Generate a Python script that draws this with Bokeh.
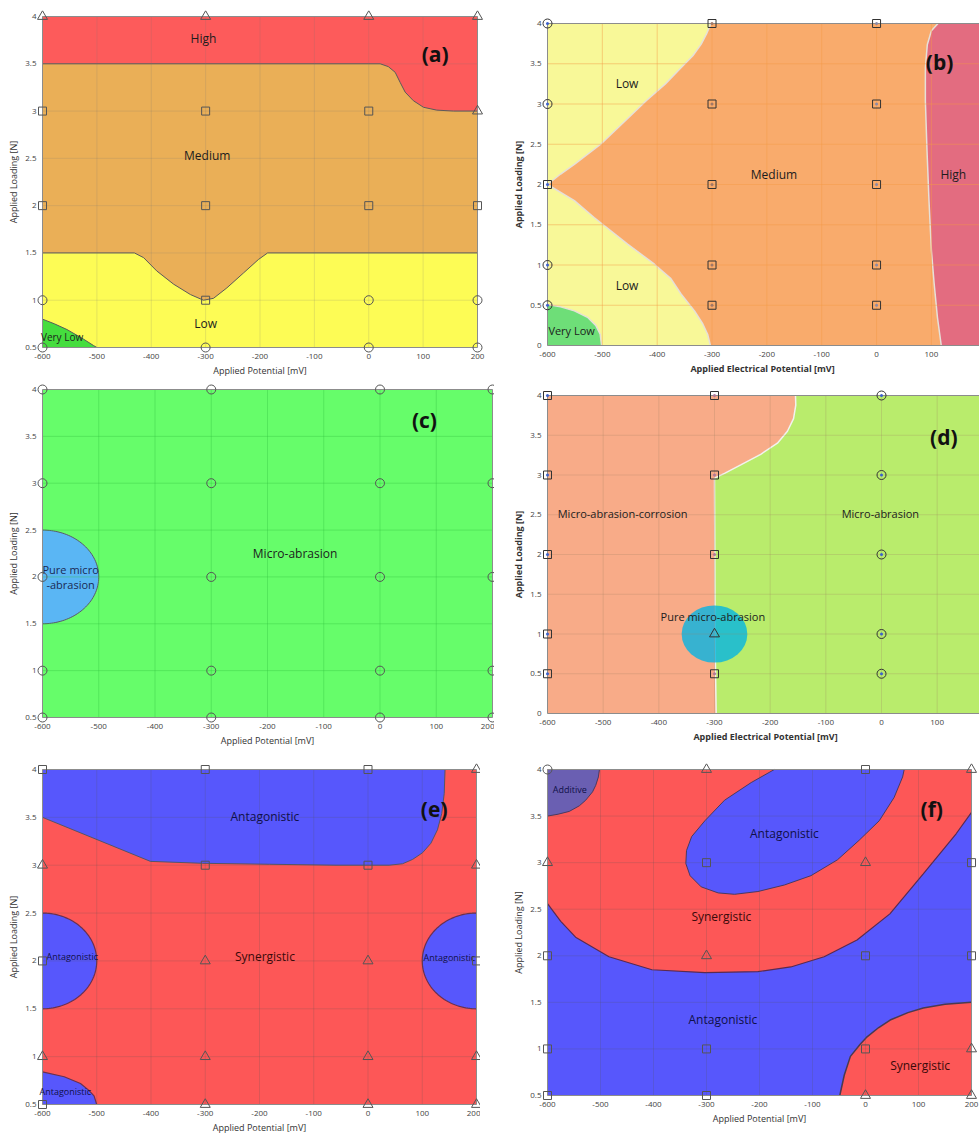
import numpy as np
from bokeh.plotting import figure
from bokeh.models import Range1d, FixedTicker, CustomJSTickFormatter, ColumnDataSource
from bokeh.layouts import row, column
from bokeh.core.properties import value
from bokeh.embed import file_html
from bokeh.resources import INLINE

FONT = "Open Sans"

# ---------------------------------------------------------------- test grid
POTENTIALS = [-600, -300, 0, 200]          # applied potential [mV]
LOADS = [4, 3, 2, 1, 0.5]                  # applied load [N]
X_TICKS = [-600, -500, -400, -300, -200, -100, 0, 100, 200]
Y_TICKS_HALF = [0.5, 1, 1.5, 2, 2.5, 3, 3.5, 4]
Y_TICKS_ZERO = [0, 0.5, 1, 1.5, 2, 2.5, 3, 3.5, 4]
X_LIMITS = [-600, 200]
Y_LIMITS_HALF = [0.5, 4]
Y_LIMITS_ZERO = [0, 4]

# marker shape at each test point, rows follow LOADS, columns follow POTENTIALS
a_markers = [["triangle", "triangle", "triangle", "triangle"],
             ["square", "square", "square", "triangle"],
             ["square", "square", "square", "square"],
             ["circle", "square", "circle", "circle"],
             ["circle", "circle", "circle", "circle"]]
b_markers = [["circle", "square", "square", "square"],
             ["circle", "square", "square", "square"],
             ["square", "square", "square", "square"],
             ["circle", "square", "square", "square"],
             ["circle", "square", "square", "square"]]
c_markers = [["circle", "circle", "circle", "circle"],
             ["circle", "circle", "circle", "circle"],
             ["circle", "circle", "circle", "circle"],
             ["circle", "circle", "circle", "circle"],
             ["circle", "circle", "circle", "circle"]]
d_markers = [["square", "square", "circle", "circle"],
             ["square", "square", "circle", "circle"],
             ["square", "square", "circle", "circle"],
             ["square", "triangle", "circle", "circle"],
             ["square", "square", "circle", "circle"]]
e_markers = [["square", "square", "square", "triangle"],
             ["triangle", "square", "square", "triangle"],
             ["square", "triangle", "triangle", "square"],
             ["triangle", "triangle", "triangle", "triangle"],
             ["square", "triangle", "triangle", "triangle"]]
f_markers = [["circle", "triangle", "square", "triangle"],
             ["triangle", "square", "triangle", "square"],
             ["square", "triangle", "square", "square"],
             ["square", "square", "square", "triangle"],
             ["square", "square", "triangle", "triangle"]]

# ---------------------------------------------------------------- (a) wastage map
a_high_x = [-600, 21, 36, 48.6, 58, 67, 82, 100.7, 125, 156, 200]
a_high_y = [3.5, 3.5, 3.47, 3.41, 3.30, 3.20, 3.11, 3.04, 3.01, 3.0, 3.0]
a_med_x = [-600, -431, -414, -390, -359, -328, -304, -285.5, -261, -230, -203, -186, 200]
a_med_y = [1.5, 1.5, 1.45, 1.31, 1.17, 1.06, 1.0, 1.02, 1.13, 1.29, 1.43, 1.5, 1.5]
a_vlow_x = [-600, -578, -555, -525, -506, -500]
a_vlow_y = [0.8, 0.75, 0.69, 0.59, 0.52, 0.5]
a_label_x = [-304, -297, -300, -564]
a_label_y = [3.77, 2.53, 0.75, 0.61]
a_labels = ["High", "Medium", "Low", "Very Low"]

# ---------------------------------------------------------------- (b) wastage map
b_low_up_x = [-600, -576, -551, -503, -460, -420, -385, -356.5, -335, -320, -310, -302]
b_low_up_y = [2.0, 2.13, 2.25, 2.5, 2.78, 3.04, 3.25, 3.45, 3.6, 3.74, 3.87, 4.0]
b_low_dn_x = [-600, -551, -515, -454, -405, -375, -356.5, -332, -317, -308, -303]
b_low_dn_y = [2.0, 1.80, 1.59, 1.26, 1.01, 0.83, 0.64, 0.43, 0.27, 0.14, 0.0]
b_high_x = [112, 100, 92.6, 89, 89, 92, 95.6, 100, 105, 111, 118]
b_high_y = [4.0, 3.91, 3.74, 3.45, 3.04, 2.42, 1.80, 1.18, 0.77, 0.35, 0.0]
b_vlow_x = [-600, -576, -551, -527, -512, -504, -501.4]
b_vlow_y = [0.51, 0.48, 0.43, 0.35, 0.25, 0.14, 0.0]
b_label_x = [-455, -455, -187, 140, -556]
b_label_y = [3.26, 0.74, 2.12, 2.12, 0.19]
b_labels = ["Low", "Low", "Medium", "High", "Very Low"]

# ---------------------------------------------------------------- (c) mechanism map
c_pure_x, c_pure_y, c_pure_w, c_pure_h = -600, 2.0, 200, 1.0
c_label_x = [-151, -550, -550]
c_label_y = [2.245, 2.08, 1.92]
c_labels = ["Micro-abrasion", "Pure micro", "-abrasion"]

# ---------------------------------------------------------------- (d) mechanism map
d_bound_x = [-297, -299, -299.5, -300, -282, -252, -217, -187, -169, -158, -154, -154.5]
d_bound_y = [0.0, 0.94, 2.2, 2.96, 3.02, 3.13, 3.26, 3.4, 3.55, 3.71, 3.88, 4.0]
d_pure_x, d_pure_y, d_pure_w, d_pure_h = -300, 1.0, 118, 0.72
d_label_x = [-465, -2, -303]
d_label_y = [2.51, 2.51, 1.22]
d_labels = ["Micro-abrasion-corrosion", "Micro-abrasion", "Pure micro-abrasion"]

# ---------------------------------------------------------------- (e) synergy map
e_top_x = [-600, -401, -305, -182, -59, 39, 63.6, 82, 100.5, 116, 128, 136, 140.5, 142]
e_top_y = [3.5, 3.04, 3.02, 3.01, 3.0, 3.0, 3.015, 3.06, 3.13, 3.23, 3.37, 3.54, 3.75, 4.0]
e_corner_x = [-600, -560, -530, -515, -505, -500]
e_corner_y = [0.84, 0.79, 0.72, 0.65, 0.59, 0.5]
e_ell_x = [-600, 200]
e_ell_y = [2.0, 2.0]
e_ell_w, e_ell_h = 200, 1.0
e_big_x = [-190, -190]
e_big_y = [3.51, 2.05]
e_big = ["Antagonistic", "Synergistic"]
e_small_x = [-545, 150, -558]
e_small_y = [2.05, 2.04, 0.64]
e_small = ["Antagonistic", "Antagonistic", "Antagonistic"]

# ---------------------------------------------------------------- (f) synergy map
f_band_x = [-600, -575, -547, -484, -403, -303, -203, -141, -78, -16, 46, 109, 171, 200]
f_band_y = [2.56, 2.37, 2.20, 1.99, 1.85, 1.82, 1.83, 1.88, 1.99, 2.17, 2.45, 2.88, 3.31, 3.54]
f_oval_x = [-172, -215.6, -266, -303, -328, -337.7, -339, -331, -310, -278, -247, -203,
            -153, -103, -53, -12, 26, 54, 70, 73]
f_oval_y = [4.0, 3.86, 3.67, 3.45, 3.28, 3.13, 2.99, 2.86, 2.74, 2.675, 2.66, 2.69,
            2.76, 2.86, 3.03, 3.24, 3.45, 3.70, 3.92, 4.0]
f_add_x = [-600, -580, -559, -540, -528, -515, -509, -504, -502]
f_add_y = [3.5, 3.52, 3.55, 3.61, 3.67, 3.76, 3.83, 3.92, 4.0]
f_syn_x = [-48.5, -40, -28.5, -10, 3, 25, 46.5, 80, 109, 150, 200]
f_syn_y = [0.5, 0.72, 0.92, 1.05, 1.13, 1.23, 1.31, 1.39, 1.44, 1.48, 1.5]
f_big_x = [-153, -272, -269, 103]
f_big_y = [3.31, 2.42, 1.32, 0.82]
f_big = ["Antagonistic", "Synergistic", "Antagonistic", "Synergistic"]
f_small_x = [-558]
f_small_y = [3.79]
f_small = ["Additive"]

# panel letters
tag_x = [122, 115, 79, 112, 122, 125]
tag_y = [3.6, 3.52, 3.67, 3.48, 3.59, 3.58]
tags = ["(a)", "(b)", "(c)", "(d)", "(e)", "(f)"]

MARKER_SIZE = {"circle": 9, "square": 8, "triangle": 10}
PAD = 6   # white margin round each map so edge markers are drawn whole


def panel(x_lim, x_view_end, y_lim, y_ticks, w, h, left, top, bottom, right,
          base, xlabel, grid_color, grid_alpha, bold_titles=False, pad_right=True):
    """A map whose coloured area is w x h pixels, set left/top px into the figure."""
    x0, x1 = x_lim[0], x_view_end
    y0, y1 = y_lim
    sx = w / (x1 - x0)
    sy = h / (y1 - y0)
    pr = PAD if pad_right else 0
    p = figure(x_range=Range1d(x0 - PAD / sx, x1 + pr / sx),
               y_range=Range1d(y0 - PAD / sy, y1 + PAD / sy),
               frame_width=w + PAD + pr, frame_height=h + 2 * PAD,
               min_border_left=left - PAD, min_border_right=right,
               min_border_top=top - PAD, min_border_bottom=bottom - PAD,
               output_backend="svg", toolbar_location=None)
    p.background_fill_color = "white"
    p.border_fill_color = "white"
    p.outline_line_color = None
    p.grid.visible = False
    p.xaxis.ticker = FixedTicker(ticks=X_TICKS)
    p.yaxis.ticker = FixedTicker(ticks=y_ticks)
    for ax in (p.xaxis[0], p.yaxis[0]):
        ax.formatter = CustomJSTickFormatter(code="return String(tick);")
        ax.major_tick_line_color = None
        ax.minor_tick_line_color = None
        ax.major_tick_out = 0
        ax.major_tick_in = 0
        ax.minor_tick_out = 0
        ax.axis_line_color = None
        ax.major_label_text_font = FONT
        ax.major_label_text_font_size = "8px"
        ax.major_label_text_color = "#444444"
        ax.major_label_standoff = 0
        ax.axis_label_text_font = FONT
        ax.axis_label_text_font_size = "9px"
        ax.axis_label_text_font_style = "bold" if bold_titles else "normal"
        ax.axis_label_text_color = "#333333"
        ax.axis_label_standoff = 2
    p.xaxis.axis_label = xlabel
    p.yaxis.axis_label = "Applied Loading [N]"
    p.quad(left=[x_lim[0]], right=[x_lim[1]], bottom=[y0], top=[y1],
           fill_color=base, line_color=None)
    p._grid_style = (grid_color, grid_alpha, x_lim, y_lim, y_ticks)
    return p


def finish_frame(p):
    """Grid lines and the map border, drawn over the coloured regions."""
    grid_color, grid_alpha, x_lim, y_lim, y_ticks = p._grid_style
    gx = [t for t in X_TICKS if x_lim[0] < t < x_lim[1]]
    p.segment(x0=gx, x1=gx, y0=[y_lim[0]] * len(gx), y1=[y_lim[1]] * len(gx),
              line_color=grid_color, line_alpha=grid_alpha, line_width=1)
    gy = [t for t in y_ticks if y_lim[0] < t < y_lim[1]]
    p.segment(x0=[x_lim[0]] * len(gy), x1=[x_lim[1]] * len(gy), y0=gy, y1=gy,
              line_color=grid_color, line_alpha=grid_alpha, line_width=1)
    p.quad(left=[x_lim[0]], right=[x_lim[1]], bottom=[y_lim[0]], top=[y_lim[1]],
           fill_color=None, line_color="#8c8c8c", line_width=1)


def half_ellipse(cx, cy, w, h, facing):
    """Outline of the half of an ellipse that lies to the right (+1) or left (-1) of cx."""
    t = np.linspace(-np.pi / 2, np.pi / 2, 80)
    return list(cx + facing * (w / 2) * np.cos(t)), list(cy + (h / 2) * np.sin(t))


def closed(xs, ys, extra):
    """Region outline: a boundary curve followed by corner points of the map."""
    return list(xs) + [c[0] for c in extra], list(ys) + [c[1] for c in extra]


def add_points(p, markers, dot_colors=None, line_color="#555555"):
    xs, ys, ms, ss = [], [], [], []
    for load, row_m in zip(LOADS, markers):
        for pot, m in zip(POTENTIALS, row_m):
            xs.append(pot)
            ys.append(load)
            ms.append(m)
            ss.append(MARKER_SIZE[m])
    src = ColumnDataSource(dict(x=xs, y=ys, marker=ms, size=ss))
    p.scatter("x", "y", marker="marker", size="size", source=src,
              fill_color=None, line_color=line_color, line_width=1)
    if dot_colors is not None:
        dx, dy, dc = [], [], []
        for load, row_m in zip(LOADS, markers):
            for pot, m in zip(POTENTIALS, row_m):
                if m != "triangle":
                    dx.append(pot)
                    dy.append(load)
                    dc.append(dot_colors[pot])
        p.scatter(dx, dy, size=3, color=dc, line_color=None)


def labels(p, xs, ys, texts, size, color="#1c1c1c", style="normal"):
    p.text(x=xs, y=ys, text=texts, text_font=value(FONT), text_font_size=size,
           text_color=color, text_font_style=style, text_align="center",
           text_baseline="middle")


def tag(p, i):
    labels(p, [tag_x[i]], [tag_y[i]], [tags[i]], "21px", color="#111111", style="bold")


# ------------------------------------------------------------------- panel (a)
pa = panel(X_LIMITS, 200, Y_LIMITS_HALF, Y_TICKS_HALF, 435, 331, 42, 16, 31, 7,
           "#fdfc55", "Applied Potential [mV]", "#777777", 0.18)
mx, my = closed(a_med_x, a_med_y, [(200, 4), (-600, 4)])
pa.patch(mx, my, fill_color="#eaaf57", line_color=None)
hx, hy = closed(a_high_x, a_high_y, [(200, 4), (-600, 4)])
pa.patch(hx, hy, fill_color="#fd5b5b", line_color=None)
vx, vy = closed(a_vlow_x, a_vlow_y, [(-600, 0.5)])
pa.patch(vx, vy, fill_color="#45dd3e", line_color=None)
for bx, by in ((a_med_x, a_med_y), (a_high_x, a_high_y), (a_vlow_x, a_vlow_y)):
    pa.line(bx, by, line_color="#5a5a5a", line_width=1)
finish_frame(pa)
labels(pa, a_label_x[:3], a_label_y[:3], a_labels[:3], "12px")
labels(pa, a_label_x[3:], a_label_y[3:], a_labels[3:], "10px")
add_points(pa, a_markers)
tag(pa, 0)

# ------------------------------------------------------------------- panel (b)
pb = panel(X_LIMITS, 195, Y_LIMITS_ZERO, Y_TICKS_ZERO, 436, 322, 53, 23, 31, 0,
           "#f8f898", "Applied Electrical Potential [mV]", "#f59a45", 0.45,
           bold_titles=True, pad_right=False)
ox = list(b_low_up_x) + [200, 200] + b_low_dn_x[::-1]
oy = list(b_low_up_y) + [4, 0] + b_low_dn_y[::-1]
pb.patch(ox, oy, fill_color="#f9ab6c", line_color=None)
rx, ry = closed(b_high_x, b_high_y, [(200, 0), (200, 4)])
pb.patch(rx, ry, fill_color="#e36c80", line_color=None)
gx_, gy_ = closed(b_vlow_x, b_vlow_y, [(-600, 0)])
pb.patch(gx_, gy_, fill_color="#6ede78", line_color=None)
for bx, by in ((b_low_up_x, b_low_up_y), (b_low_dn_x, b_low_dn_y),
               (b_high_x, b_high_y), (b_vlow_x, b_vlow_y)):
    pb.line(bx, by, line_color="#e6e0d8", line_width=1.5)
finish_frame(pb)
labels(pb, b_label_x[:4], b_label_y[:4], b_labels[:4], "12px")
labels(pb, b_label_x[4:], b_label_y[4:], b_labels[4:], "11px")
add_points(pb, b_markers, dot_colors={-600: "#3c62cc", -300: "#a07868", 0: "#8a8aa8", 200: "#a07868"},
           line_color="#333333")
tag(pb, 1)

# ------------------------------------------------------------------- panel (c)
pc = panel(X_LIMITS, 200, Y_LIMITS_HALF, Y_TICKS_HALF, 450, 328, 34, 10, 34, 0,
           "#66fd6a", "Applied Potential [mV]", "#30c040", 0.35)
ex, ey = half_ellipse(c_pure_x, c_pure_y, c_pure_w, c_pure_h, 1)
pc.patch(ex, ey, fill_color="#5ab6f4", line_color=None)
pc.line(ex, ey, line_color="#5a5a6a", line_width=1)
finish_frame(pc)
labels(pc, c_label_x[:1], c_label_y[:1], c_labels[:1], "12px")
labels(pc, c_label_x[1:], c_label_y[1:], c_labels[1:], "11px", color="#1a2a55")
add_points(pc, c_markers)
tag(pc, 2)

# ------------------------------------------------------------------- panel (d)
pd = panel(X_LIMITS, 194, Y_LIMITS_ZERO, Y_TICKS_ZERO, 442, 318, 47, 18, 30, 0,
           "#b9ec6c", "Applied Electrical Potential [mV]", "#a08060", 0.25,
           bold_titles=True, pad_right=False)
sx_ = [-600] + list(d_bound_x) + [-600]
sy_ = [0] + list(d_bound_y) + [4]
pd.patch(sx_, sy_, fill_color="#f8ab88", line_color=None)
pd.line(d_bound_x, d_bound_y, line_color="#f2f2ee", line_width=1.5)
pd.ellipse(x=[d_pure_x], y=[d_pure_y], width=d_pure_w, height=d_pure_h,
           fill_color="#00b4e4", fill_alpha=0.78, line_color=None)
finish_frame(pd)
labels(pd, d_label_x, d_label_y, d_labels, "11px")
add_points(pd, d_markers, dot_colors={-600: "#3c62cc", -300: "#b07898", 0: "#3c62cc", 200: "#3c62cc"},
           line_color="#333333")
tag(pd, 3)

# ------------------------------------------------------------------- panel (e)
pe = panel(X_LIMITS, 200, Y_LIMITS_HALF, Y_TICKS_HALF, 434, 335, 40, 18, 28, 0,
           "#fd5757", "Applied Potential [mV]", "#555555", 0.2)
tx, ty = closed(e_top_x, e_top_y, [(-600, 4)])
pe.patch(tx, ty, fill_color="#5757fc", line_color=None)
pe.line(e_top_x, e_top_y, line_color="#555566", line_width=1)
for cx, cy, facing in zip(e_ell_x, e_ell_y, (1, -1)):
    ex, ey = half_ellipse(cx, cy, e_ell_w, e_ell_h, facing)
    pe.patch(ex, ey, fill_color="#5757fc", line_color=None)
    pe.line(ex, ey, line_color="#6a3050", line_width=1.2)
kx, ky = closed(e_corner_x, e_corner_y, [(-600, 0.5)])
pe.patch(kx, ky, fill_color="#5757fc", line_color=None)
pe.line(e_corner_x, e_corner_y, line_color="#6a3050", line_width=1.2)
finish_frame(pe)
labels(pe, e_big_x[:1], e_big_y[:1], e_big[:1], "12px", color="#101048")
labels(pe, e_big_x[1:], e_big_y[1:], e_big[1:], "12px", color="#3a0a0a")
labels(pe, e_small_x, e_small_y, e_small, "9px", color="#101048")
add_points(pe, e_markers)
tag(pe, 4)

# ------------------------------------------------------------------- panel (f)
pf = panel(X_LIMITS, 200, Y_LIMITS_HALF, Y_TICKS_HALF, 424, 326, 52, 24, 41, 7,
           "#5757fc", "Applied Potential [mV]", "#555555", 0.2)
bx_, by_ = closed(f_band_x, f_band_y, [(200, 4), (-600, 4)])
pf.patch(bx_, by_, fill_color="#fd5757", line_color=None)
pf.line(f_band_x, f_band_y, line_color="#5a2a50", line_width=1.2)
pf.patch(f_oval_x, f_oval_y, fill_color="#5757fc", line_color="#4a3a60", line_width=1)
ax_, ay_ = closed(f_add_x, f_add_y, [(-600, 4)])
pf.patch(ax_, ay_, fill_color="#6a5fb2", line_color=None)
pf.line(f_add_x, f_add_y, line_color="#4a3a60", line_width=1)
qx, qy = closed(f_syn_x, f_syn_y, [(200, 0.5)])
pf.patch(qx, qy, fill_color="#fd5757", line_color=None)
pf.line(f_syn_x, f_syn_y, line_color="#4a3a50", line_width=1.5)
finish_frame(pf)
labels(pf, f_big_x[0::2], f_big_y[0::2], f_big[0::2], "12px", color="#101048")
labels(pf, f_big_x[1::2], f_big_y[1::2], f_big[1::2], "12px", color="#3a0a0a")
labels(pf, f_small_x, f_small_y, f_small, "9px", color="#101048")
add_points(pf, f_markers)
tag(pf, 5)

layout = row(column(pa, pc, pe), column(pb, pd, pf))
open("out.html", "w").write(file_html(layout, INLINE))
